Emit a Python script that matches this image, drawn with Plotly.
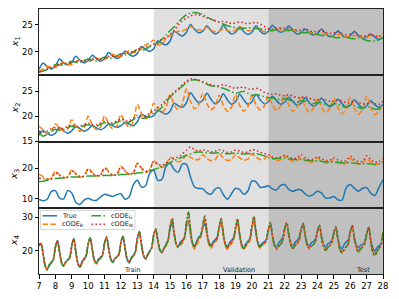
import numpy as np
import plotly.graph_objects as go
from plotly.subplots import make_subplots

# sampling grids (days)
t_q = np.arange(7, 28.0001, 0.25)     # panels x1..x3
t_e = np.arange(7, 28.0001, 0.125)    # panel x4

x1_true = [16.8, 18.0, 17.3, 16.9, 17.4, 18.7, 18.0, 17.6, 18.1, 19.2, 18.5, 18.0,
           18.4, 19.4, 18.8, 18.3, 18.8, 19.9, 19.3, 18.8, 19.2, 20.2, 19.6, 19.2,
           19.7, 21.0, 20.5, 20.1, 20.6, 22.0, 21.6, 21.3, 22.0, 23.8, 23.3, 22.9,
           23.6, 25.0, 24.1, 23.5, 23.8, 24.8, 23.9, 23.3, 23.7, 24.9, 23.9, 23.3,
           23.6, 24.6, 23.7, 23.2, 23.6, 24.8, 23.8, 23.3, 23.8, 24.9, 24.1, 23.6,
           23.9, 24.8, 23.9, 23.3, 23.5, 24.2, 23.5, 23.1, 23.4, 24.2, 23.3, 22.8,
           23.1, 23.9, 23.1, 22.7, 23.0, 23.8, 23.0, 22.5, 22.7, 23.3, 22.7, 22.3, 22.6]
x1_B = [16.5, 16.9, 17.4, 17.2, 17.2, 17.7, 18.1, 17.8, 17.7, 18.2, 18.6, 18.3,
        18.2, 18.5, 18.9, 18.6, 18.6, 19.1, 19.6, 19.2, 19.2, 19.7, 20.3, 19.9,
        20.0, 20.6, 21.3, 21.6, 22.2, 21.3, 21.5, 22.4, 23.0, 23.6, 23.8, 23.8,
        24.2, 24.6, 24.3, 24.0, 24.1, 24.5, 24.0, 23.7, 23.8, 24.2, 23.9, 23.7,
        24.0, 24.6, 24.3, 23.9, 24.0, 24.4, 24.0, 23.7, 23.7, 24.0, 24.2, 24.0,
        23.9, 24.1, 24.0, 23.7, 23.6, 23.8, 23.6, 23.3, 23.2, 23.5, 23.3, 23.0,
        22.9, 23.2, 23.1, 22.8, 22.8, 23.0, 22.9, 22.7, 22.7, 23.0, 22.9, 22.9, 23.4]
x1_G = [16.4, 16.5, 16.8, 17.2, 17.7, 17.6, 17.7, 18.0, 18.3, 18.1, 18.1, 18.4,
        18.7, 18.5, 18.4, 18.7, 19.1, 18.9, 18.9, 19.3, 19.7, 19.5, 19.5, 20.0,
        20.5, 20.3, 20.5, 21.0, 21.5, 21.6, 22.3, 23.1, 23.9, 24.6, 25.4, 26.2,
        26.8, 27.1, 27.2, 27.1, 26.8, 26.4, 26.0, 25.7, 25.4, 25.1, 24.8, 24.6,
        24.4, 24.2, 24.3, 24.4, 24.4, 24.3, 24.2, 24.1, 24.0, 23.9, 24.1, 24.2,
        24.0, 23.9, 24.0, 23.8, 23.6, 23.5, 23.6, 23.4, 23.2, 23.0, 23.1, 23.0,
        22.7, 22.6, 22.8, 22.7, 22.5, 22.4, 22.6, 22.4, 22.1, 22.0, 22.0, 22.2, 22.7]
x1_W = [16.3, 16.6, 16.9, 17.0, 17.4, 17.8, 17.9, 17.9, 18.1, 18.4, 18.4, 18.3,
        18.5, 18.8, 18.8, 18.7, 18.9, 19.2, 19.2, 19.2, 19.5, 19.8, 19.9, 20.0,
        20.4, 20.8, 20.9, 21.1, 21.4, 21.9, 22.3, 22.6, 23.2, 24.0, 24.9, 25.7,
        26.2, 26.6, 26.8, 26.8, 26.5, 26.2, 26.0, 25.7, 25.5, 25.6, 25.4, 25.2,
        25.3, 25.5, 25.3, 25.2, 25.3, 25.4, 25.1, 24.7, 24.3, 24.2, 24.4, 24.4,
        24.3, 24.4, 24.2, 24.0, 24.0, 24.2, 23.9, 23.7, 23.7, 23.9, 23.6, 23.4,
        23.5, 23.7, 23.4, 23.2, 23.3, 23.5, 23.1, 22.9, 23.0, 23.2, 22.9, 22.8, 23.1]

x2_true = [16.2, 17.1, 16.6, 16.2, 16.6, 17.7, 17.1, 16.6, 17.1, 18.0, 17.5, 17.0,
           17.4, 18.1, 17.7, 17.3, 17.7, 18.5, 18.1, 17.8, 18.1, 18.8, 18.4, 18.1,
           18.9, 20.4, 20.0, 19.8, 20.1, 21.2, 20.8, 20.4, 21.0, 22.6, 22.1, 21.8,
           22.7, 24.7, 23.6, 22.7, 23.2, 24.6, 23.4, 22.5, 23.0, 24.5, 23.3, 22.4,
           22.9, 24.4, 23.3, 22.4, 22.9, 24.4, 23.3, 22.5, 22.9, 24.0, 23.1, 22.4,
           22.8, 23.8, 22.9, 22.2, 22.6, 23.7, 22.7, 22.0, 22.5, 23.6, 22.6, 21.9,
           22.4, 23.4, 22.5, 21.8, 22.2, 23.3, 22.4, 21.7, 22.1, 23.1, 22.3, 21.8, 22.4]
x2_B = [18.0, 17.3, 16.5, 16.9, 18.5, 17.7, 17.0, 17.4, 19.3, 18.0, 17.0, 17.6,
        20.0, 18.3, 17.3, 17.8, 20.1, 18.5, 17.5, 18.0, 20.3, 18.8, 17.8, 18.8,
        22.4, 20.6, 19.5, 20.2, 22.6, 21.5, 20.8, 21.8, 24.3, 22.3, 21.3, 22.5,
        25.5, 23.0, 21.5, 22.3, 24.6, 22.5, 21.3, 22.0, 24.2, 22.2, 21.0, 21.8,
        24.3, 22.2, 21.0, 21.9, 24.0, 22.3, 21.3, 22.0, 24.0, 22.3, 21.2, 22.0,
        24.3, 22.2, 21.0, 21.8, 23.8, 21.9, 20.8, 21.6, 23.5, 21.8, 20.7, 21.5,
        23.6, 21.7, 20.5, 21.4, 23.8, 21.6, 20.4, 21.4, 24.0, 21.8, 20.3, 21.0, 22.5]
x2_G = [16.8, 16.0, 16.4, 17.0, 17.4, 17.2, 17.3, 17.7, 18.0, 17.7, 17.7, 18.1,
        18.3, 18.0, 18.0, 18.4, 18.7, 18.4, 18.4, 18.8, 19.0, 18.7, 18.8, 19.3,
        19.8, 19.6, 19.7, 20.1, 20.6, 21.0, 21.8, 22.8, 23.8, 24.6, 25.3, 26.0,
        26.7, 27.2, 27.3, 27.2, 26.8, 26.4, 26.1, 26.0, 25.8, 25.6, 25.3, 24.9,
        24.6, 24.8, 25.0, 24.6, 24.2, 24.3, 24.2, 23.9, 23.7, 23.6, 23.5, 23.3,
        23.5, 23.3, 23.0, 22.8, 23.1, 23.0, 22.7, 22.5, 22.8, 22.7, 22.3, 22.1,
        22.5, 22.4, 22.0, 21.8, 22.2, 22.1, 21.8, 21.5, 21.9, 21.8, 21.4, 21.5, 22.0]
x2_W = [17.0, 16.8, 17.0, 17.5, 17.8, 17.6, 17.6, 18.0, 18.3, 18.0, 18.0, 18.3,
        18.6, 18.3, 18.3, 18.7, 19.0, 18.7, 18.7, 19.1, 19.4, 19.1, 19.1, 19.6,
        20.2, 20.0, 20.1, 20.6, 21.1, 21.7, 22.4, 23.2, 24.0, 24.8, 25.5, 26.3,
        27.0, 27.5, 27.4, 27.2, 26.9, 26.6, 26.3, 26.1, 26.1, 26.3, 26.1, 25.8,
        25.6, 25.8, 25.8, 25.5, 25.4, 25.6, 25.3, 24.8, 24.5, 24.4, 24.5, 24.2,
        24.1, 24.3, 24.0, 23.7, 23.7, 23.9, 23.6, 23.3, 23.3, 23.6, 23.3, 23.0,
        23.0, 23.3, 23.0, 22.7, 22.7, 23.0, 22.8, 22.5, 22.5, 22.8, 22.5, 22.4, 23.0]

x3_true = [9.7, 9.3, 9.8, 12.3, 12.6, 10.2, 9.9, 12.6, 11.8, 8.7, 8.1, 9.5,
           10.1, 9.5, 9.4, 10.5, 11.4, 11.1, 10.7, 11.3, 11.6, 9.8, 10.5, 14.4,
           16.0, 13.8, 14.2, 18.2, 19.3, 16.0, 16.3, 20.5, 21.6, 19.5, 18.6, 21.3,
           21.2, 17.0, 13.8, 13.3, 13.2, 11.9, 11.4, 13.1, 13.6, 11.3, 9.8, 11.6,
           13.4, 12.9, 11.4, 12.5, 15.8, 15.5, 13.7, 13.8, 14.2, 13.2, 12.8, 14.3,
           14.6, 13.0, 12.4, 12.9, 12.8, 11.5, 10.8, 11.4, 12.4, 11.8, 10.2, 10.2,
           10.7, 9.6, 9.5, 13.5, 14.6, 13.4, 12.4, 13.4, 13.6, 11.8, 11.0, 13.6, 16.2]
x3_B = [18.0, 17.2, 16.3, 16.7, 19.0, 17.8, 16.8, 17.1, 19.5, 18.2, 17.1, 17.4,
        19.9, 18.6, 17.4, 17.7, 20.2, 18.9, 17.6, 17.9, 20.6, 19.2, 17.9, 18.3,
        21.6, 20.0, 18.6, 19.2, 22.4, 21.2, 20.2, 21.0, 23.5, 22.8, 22.0, 22.6,
        24.4, 23.5, 22.8, 22.8, 24.4, 23.2, 22.4, 22.7, 24.6, 23.4, 22.5, 22.8,
        24.4, 23.3, 22.6, 22.9, 24.6, 23.6, 22.8, 22.9, 24.2, 23.2, 22.5, 22.7,
        24.0, 22.9, 22.2, 22.4, 23.5, 22.5, 21.8, 22.1, 23.2, 22.3, 21.6, 21.8,
        23.0, 22.0, 21.3, 21.6, 23.2, 22.1, 21.3, 21.5, 23.0, 21.9, 21.2, 21.4, 22.3]
x3_G = [15.6, 15.7, 16.0, 16.3, 16.6, 16.7, 16.8, 16.9, 17.1, 17.1, 17.1, 17.2,
        17.4, 17.4, 17.4, 17.5, 17.6, 17.6, 17.6, 17.7, 17.9, 17.9, 18.0, 18.1,
        18.4, 18.5, 18.8, 19.1, 19.5, 19.9, 20.5, 21.1, 21.8, 22.4, 23.0, 23.6,
        24.2, 24.7, 25.1, 25.3, 25.2, 25.0, 24.9, 24.9, 25.0, 24.9, 24.7, 24.8,
        24.9, 24.8, 24.6, 24.7, 24.8, 24.7, 24.4, 24.0, 23.4, 23.1, 23.1, 23.2,
        23.2, 23.0, 22.8, 22.8, 22.8, 22.6, 22.4, 22.4, 22.4, 22.2, 22.0, 22.0,
        22.0, 21.8, 21.7, 21.7, 21.8, 21.6, 21.4, 21.4, 21.5, 21.3, 21.2, 21.3, 21.6]
x3_W = [16.7, 16.6, 16.4, 16.6, 18.4, 17.6, 17.0, 17.1, 19.0, 18.0, 17.3, 17.4,
        19.5, 18.4, 17.6, 17.7, 19.9, 18.7, 17.8, 17.9, 20.4, 19.1, 18.1, 18.4,
        21.5, 20.0, 19.0, 19.4, 22.2, 21.3, 20.9, 21.5, 23.0, 23.3, 23.6, 24.6,
        25.8, 26.9, 26.0, 25.6, 26.0, 25.7, 25.3, 25.5, 26.0, 25.7, 25.2, 25.3,
        25.9, 25.6, 25.1, 25.3, 26.0, 25.8, 25.2, 24.8, 24.5, 23.6, 23.4, 23.6,
        24.2, 23.6, 23.1, 23.3, 24.4, 23.4, 22.7, 22.9, 23.7, 23.0, 22.5, 22.6,
        23.4, 22.7, 22.2, 22.4, 23.9, 22.8, 22.1, 22.2, 24.0, 22.8, 21.9, 22.1, 23.0]

x4_true = [21.5, 21.8, 19.0, 15.5, 14.3, 15.8, 16.6, 17.4,
           21.0, 23.0, 19.8, 16.6, 15.5, 16.6, 17.2, 18.0,
           21.5, 23.6, 19.5, 16.2, 15.0, 16.6, 17.6, 18.5,
           22.0, 23.8, 20.5, 17.3, 16.3, 17.4, 18.0, 18.6,
           22.2, 24.0, 20.8, 17.6, 16.5, 17.6, 18.2, 18.8,
           22.5, 24.2, 20.8, 17.5, 16.4, 17.8, 18.6, 19.5,
           23.5, 25.5, 22.0, 18.6, 17.5, 18.8, 19.8, 20.8,
           24.5, 26.2, 23.2, 20.3, 19.5, 20.8, 21.8, 23.0,
           26.5, 28.3, 24.8, 22.0, 21.2, 22.5, 23.0, 23.8,
           27.2, 28.8, 25.0, 22.0, 21.0, 22.8, 24.0, 24.5,
           26.8, 28.0, 24.8, 22.4, 21.5, 22.6, 23.3, 24.0,
           26.8, 28.5, 24.8, 22.0, 21.0, 22.3, 23.0, 23.8,
           26.5, 28.3, 24.5, 21.8, 20.8, 22.0, 22.8, 23.6,
           27.0, 28.7, 25.0, 22.2, 21.3, 22.2, 22.6, 23.3,
           26.2, 27.8, 24.5, 21.8, 20.8, 22.2, 23.0, 23.8,
           26.5, 28.0, 24.8, 22.2, 21.3, 22.4, 23.0, 23.8,
           26.3, 27.8, 24.6, 22.2, 21.3, 22.3, 22.7, 23.4,
           25.8, 27.3, 24.2, 21.9, 21.0, 22.0, 22.4, 23.0,
           25.3, 26.8, 23.5, 21.3, 20.5, 21.8, 22.6, 23.1,
           25.6, 27.2, 24.0, 21.7, 20.8, 21.6, 21.8, 22.5,
           25.0, 26.8, 23.2, 20.8, 19.8, 20.8, 21.4, 22.0,
           25.0]
x4_B = [21.8, 22.2, 19.0, 15.6, 14.5, 15.6, 16.4, 17.2,
        20.8, 22.8, 19.5, 16.3, 15.2, 16.3, 17.0, 17.8,
        21.3, 23.4, 19.6, 16.3, 15.2, 16.4, 17.2, 18.2,
        21.8, 23.7, 20.3, 17.0, 16.0, 17.0, 17.6, 18.4,
        22.0, 24.0, 20.6, 17.6, 16.6, 17.5, 18.0, 18.7,
        22.3, 24.0, 20.6, 17.6, 16.6, 17.6, 18.3, 19.2,
        23.2, 25.3, 21.8, 18.6, 17.6, 18.6, 19.5, 20.6,
        24.3, 26.2, 23.0, 20.3, 19.6, 20.6, 21.4, 22.8,
        26.8, 29.3, 25.0, 21.8, 20.8, 21.6, 22.2, 23.2,
        27.0, 29.3, 25.0, 21.5, 20.5, 21.8, 22.8, 23.8,
        27.0, 29.0, 24.8, 21.6, 20.6, 21.8, 22.4, 23.4,
        26.6, 28.6, 24.5, 21.3, 20.3, 21.4, 22.0, 23.0,
        26.4, 28.6, 24.3, 21.2, 20.2, 21.3, 22.0, 23.0,
        26.8, 29.0, 24.8, 21.7, 20.7, 21.5, 22.0, 22.8,
        26.0, 27.8, 24.2, 21.4, 20.5, 21.4, 22.0, 23.0,
        26.2, 28.0, 24.4, 21.7, 20.8, 21.6, 22.2, 23.0,
        26.0, 27.8, 24.3, 21.7, 20.8, 21.6, 22.0, 22.8,
        25.4, 27.0, 23.8, 21.4, 20.5, 21.2, 21.6, 22.3,
        24.8, 26.5, 23.0, 20.4, 19.5, 20.5, 21.2, 22.0,
        25.2, 27.0, 23.6, 21.0, 20.0, 20.8, 21.2, 22.0,
        24.6, 26.5, 22.8, 20.0, 19.0, 20.0, 20.8, 21.6,
        25.5]
x4_G = [21.8, 22.0, 19.0, 15.4, 14.2, 15.5, 16.3, 17.2,
        21.0, 23.0, 19.8, 16.4, 15.3, 16.4, 17.1, 17.9,
        21.4, 23.5, 19.6, 16.1, 15.0, 16.3, 17.3, 18.3,
        21.9, 23.8, 20.4, 17.1, 16.1, 17.1, 17.8, 18.5,
        22.2, 24.1, 20.7, 17.5, 16.4, 17.4, 18.0, 18.8,
        22.5, 24.3, 20.8, 17.4, 16.3, 17.5, 18.4, 19.4,
        23.6, 25.8, 22.1, 18.6, 17.4, 18.6, 19.6, 20.8,
        24.7, 26.5, 23.3, 20.2, 19.3, 20.5, 21.5, 23.0,
        27.2, 29.8, 25.5, 22.0, 21.0, 22.0, 22.8, 24.0,
        28.5, 31.6, 26.5, 22.3, 21.2, 22.6, 23.6, 24.6,
        27.8, 30.4, 25.8, 22.3, 21.2, 22.2, 22.8, 23.8,
        27.3, 29.6, 25.2, 21.8, 20.8, 21.8, 22.5, 23.5,
        27.0, 29.3, 25.0, 21.6, 20.6, 21.6, 22.3, 23.3,
        27.5, 30.0, 25.5, 22.0, 21.0, 21.8, 22.2, 23.0,
        26.5, 28.4, 24.5, 21.4, 20.4, 21.2, 21.8, 23.0,
        26.6, 28.4, 24.6, 21.6, 20.6, 21.4, 22.0, 23.0,
        26.4, 28.2, 24.4, 21.5, 20.5, 21.3, 21.8, 22.8,
        25.8, 27.6, 23.8, 21.0, 20.0, 20.8, 21.4, 22.4,
        25.3, 27.2, 23.2, 20.2, 19.3, 20.2, 21.0, 22.0,
        25.6, 27.6, 23.6, 20.6, 19.6, 20.4, 21.0, 22.0,
        25.0, 27.2, 23.0, 19.4, 18.3, 19.6, 20.6, 21.6,
        25.5]
x4_W = [21.6, 21.9, 19.1, 15.6, 14.4, 15.6, 16.4, 17.3,
        21.0, 22.9, 19.7, 16.5, 15.4, 16.5, 17.2, 18.0,
        21.4, 23.4, 19.6, 16.2, 15.1, 16.4, 17.4, 18.4,
        21.9, 23.7, 20.4, 17.2, 16.2, 17.2, 17.9, 18.6,
        22.2, 24.0, 20.7, 17.6, 16.5, 17.5, 18.1, 18.9,
        22.5, 24.2, 20.8, 17.5, 16.4, 17.6, 18.5, 19.5,
        23.6, 25.6, 22.1, 18.7, 17.5, 18.7, 19.7, 20.9,
        24.7, 26.4, 23.3, 20.3, 19.4, 20.6, 21.6, 23.1,
        27.0, 29.5, 25.4, 22.1, 21.1, 22.1, 22.9, 24.0,
        28.2, 31.0, 26.3, 22.4, 21.3, 22.6, 23.6, 24.5,
        27.6, 30.0, 25.7, 22.4, 21.3, 22.3, 22.9, 23.8,
        27.2, 29.5, 25.2, 21.9, 20.9, 21.9, 22.6, 23.5,
        27.1, 29.5, 25.1, 21.7, 20.7, 21.7, 22.4, 23.4,
        27.6, 30.2, 25.6, 22.1, 21.1, 21.9, 22.3, 23.1,
        26.5, 28.3, 24.5, 21.5, 20.5, 21.3, 21.9, 23.0,
        26.6, 28.4, 24.6, 21.7, 20.7, 21.5, 22.1, 23.0,
        26.4, 28.1, 24.4, 21.6, 20.6, 21.4, 21.9, 22.8,
        25.8, 27.5, 23.8, 21.1, 20.1, 20.9, 21.5, 22.4,
        25.2, 27.0, 23.2, 20.3, 19.4, 20.3, 21.1, 22.0,
        25.5, 27.4, 23.6, 20.7, 19.7, 20.5, 21.1, 22.0,
        25.0, 27.0, 23.0, 19.6, 18.6, 19.8, 20.7, 21.6,
        25.4]

y_labels = ["<i>x</i><sub>1</sub>", "<i>x</i><sub>2</sub>",
            "<i>x</i><sub>3</sub>", "<i>x</i><sub>4</sub>"]
y_ranges = [[15.75, 27.85], [14.95, 28.2], [7.0, 28.7], [13.0, 32.8]]
y_ticks = [[20, 25], [15, 20, 25], [10, 20], [20, 30]]
x_ticks = list(range(7, 29))
phases = [("Train", 14), ("Validation", 21), ("Test", 28)]
series_names = ["True", "cODE<sub>B</sub>", "cODE<sub>G</sub>", "cODE<sub>W</sub>"]
colors = ["#1f77b4", "#ff7f0e", "#2ca02c", "#d62728"]
dashes = ["solid", "5.5px,2.4px", "9.6px,2.4px,1.5px,2.4px", "1.5px,2.5px"]

panels = [
    (t_q, [x1_true, x1_B, x1_G, x1_W]),
    (t_q, [x2_true, x2_B, x2_G, x2_W]),
    (t_q, [x3_true, x3_B, x3_G, x3_W]),
    (t_e, [x4_true, x4_B, x4_G, x4_W]),
]

W, H = 399, 299
ML, MR, MT, MB = 39, 16, 9, 25
PW, PH = W - ML - MR, H - MT - MB

def px(x):
    return (x - ML) / PW

def py(y):
    return (H - MB - y) / PH

fig = make_subplots(rows=4, cols=1, shared_xaxes=True, vertical_spacing=0)

for r, (tt, ys) in enumerate(panels, start=1):
    for k, y in enumerate(ys):
        fig.add_trace(go.Scatter(
            x=tt, y=y, mode="lines", name=series_names[k], showlegend=False,
            line=dict(color=colors[k], width=1.5, dash=dashes[k],
                      shape="spline", smoothing=0.8),
            hoverinfo="skip"), row=r, col=1)

tickfont = dict(family="DejaVu Sans", size=8.5, color="black")
for r in range(1, 5):
    fig.update_yaxes(range=y_ranges[r - 1], tickvals=y_ticks[r - 1],
                     showline=True, mirror=True, linecolor="#222", linewidth=1,
                     ticks="outside", ticklen=3.5, tickwidth=0.8, tickcolor="black",
                     showgrid=False, zeroline=False, tickfont=tickfont,
                     automargin=False, row=r, col=1)
    fig.update_xaxes(range=[7, 28], tickvals=x_ticks,
                     showline=True, mirror=True, linecolor="#222", linewidth=1,
                     ticks="outside" if r == 4 else "", ticklen=3.5, tickwidth=0.8,
                     tickcolor="black", showticklabels=(r == 4),
                     showgrid=False, zeroline=False, automargin=False,
                     tickfont=dict(family="DejaVu Sans", size=8.5, color="black"),
                     row=r, col=1)

shapes = [
    dict(type="rect", xref="x", yref="paper", x0=14, x1=21, y0=0, y1=1,
         fillcolor="#e0e0e0", line=dict(width=0), layer="below"),
    dict(type="rect", xref="x", yref="paper", x0=21, x1=28, y0=0, y1=1,
         fillcolor="#c0c0c0", line=dict(width=0), layer="below"),
]

# legend box (drawn in panel 4, upper left)
shapes.append(dict(type="rect", xref="paper", yref="paper",
                   x0=px(40.5), x1=px(135), y0=py(229.5), y1=py(210.5),
                   fillcolor="rgba(255,255,255,0.8)",
                   line=dict(color="#cccccc", width=0.8), layer="above"))
leg_pos = [(42.5, 215.8), (42.5, 224.3), (91.5, 215.8), (91.5, 224.3)]
annotations = []
for k, (lx, ly) in enumerate(leg_pos):
    shapes.append(dict(type="line", xref="paper", yref="paper",
                       x0=px(lx), x1=px(lx + 14.5), y0=py(ly), y1=py(ly),
                       line=dict(color=colors[k], width=1.5, dash=dashes[k]),
                       layer="above"))
    annotations.append(dict(xref="paper", yref="paper", x=px(lx + 17), y=py(ly),
                            text=series_names[k], showarrow=False,
                            xanchor="left", yanchor="middle",
                            font=dict(family="DejaVu Sans", size=6.5, color="#222")))

for i, lab in enumerate(y_labels):
    annotations.append(dict(xref="paper", yref="paper", x=px(15),
                            y=1 - (i + 0.5) * 0.25, text=lab, showarrow=False,
                            textangle=-90, xanchor="center", yanchor="middle",
                            font=dict(family="DejaVu Sans", size=9.5, color="black")))

for name, edge in phases:
    annotations.append(dict(xref="x4", yref="paper", x=edge - 0.68, y=py(269.5),
                            text=name, showarrow=False, xanchor="right",
                            yanchor="middle",
                            font=dict(family="DejaVu Sans", size=6.5, color="#222")))

fig.update_layout(width=W, height=H, margin=dict(l=ML, r=MR, t=MT, b=MB),
                  paper_bgcolor="white", plot_bgcolor="white",
                  shapes=shapes, annotations=annotations, showlegend=False)

fig.write_html("out.html", config={"displayModeBar": False},
               post_script="document.body.style.margin='0px';document.body.style.overflow='hidden';")
